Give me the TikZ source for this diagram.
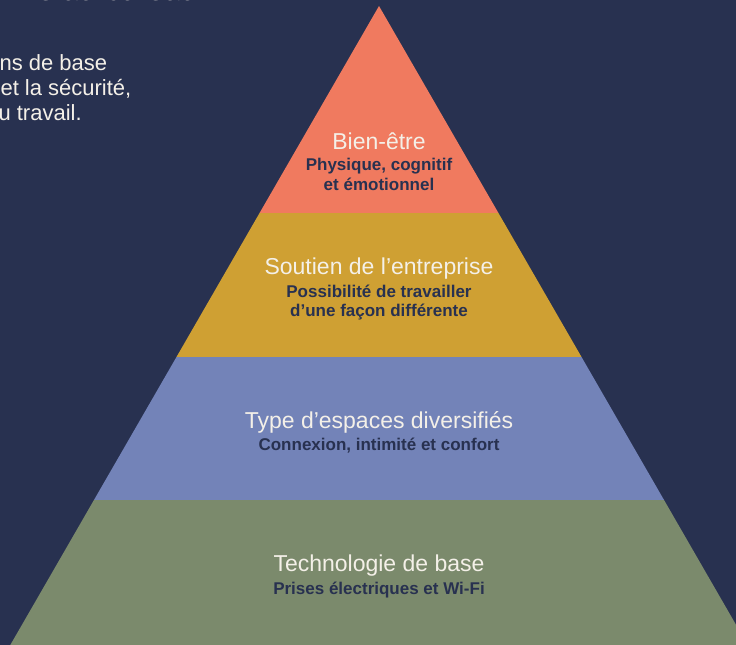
\documentclass[tikz,border=0pt]{standalone}
\usepackage{fontspec}
\setmainfont{Liberation Sans}
\usepackage{tikz}

\definecolor{navy}{HTML}{283150}
\definecolor{coral}{HTML}{F07A5F}
\definecolor{gold}{HTML}{CFA033}
\definecolor{lavender}{HTML}{7383B8}
\definecolor{sage}{HTML}{7B8A6C}
\definecolor{paper}{HTML}{F4F0E8}

\tikzset{
  head/.style={text=paper, font=\fontsize{23}{27}\selectfont},
  sub/.style={text=navy, font=\bfseries\fontsize{17}{19.5}\selectfont, align=center},
  side/.style={text=paper, font=\fontsize{22}{25}\selectfont, anchor=base west}
}

\begin{document}
\begin{tikzpicture}[x=1pt,y=-1pt]
\useasboundingbox (0,0) rectangle (736,645);
\clip (0,0) rectangle (736,645);
\fill[navy] (0,0) rectangle (736,645);

% the four layers of the pyramid
\foreach \ytop/\ybot/\col in {6/213/coral,213/357/gold,357/500/lavender,500/660/sage}
{
  \pgfmathsetmacro\wt{(\ytop-6)*0.577}
  \pgfmathsetmacro\wb{(\ybot-6)*0.577}
  \fill[\col] (379-\wt,\ytop) -- (379+\wt,\ytop) -- (379+\wb,\ybot) -- (379-\wb,\ybot) -- cycle;
};

% text left, cut off by the page
\node[side, font=\fontsize{30}{34}\selectfont, anchor=base east] (title) at (201,1) {me au bureau};
\node[side] (lineA) at (-4,70) {ns de base};
\node[side] (lineB) at (-3,95) {et la sécurité,};
\node[side] (lineC) at (-5,120) {u travail.};

% labels of the layers
\node[head] (well) at (379,141) {Bien-être};
\node[sub] (wellSub) at (379,174.5) {Physique, cognitif\\et émotionnel};

\node[head] (help) at (379,269) {Soutien de l’entreprise};
\node[sub] (helpSub) at (379,302.5) {Possibilité de travailler\\d’une façon différente};

\node[head] (space) at (379,422) {Type d’espaces diversifiés};
\node[sub] (spaceSub) at (379,446) {Connexion, intimité et confort};

\node[head] (tech) at (379,566) {Technologie de base};
\node[sub] (techSub) at (379,590) {Prises électriques et Wi-Fi};
\end{tikzpicture}
\end{document}
